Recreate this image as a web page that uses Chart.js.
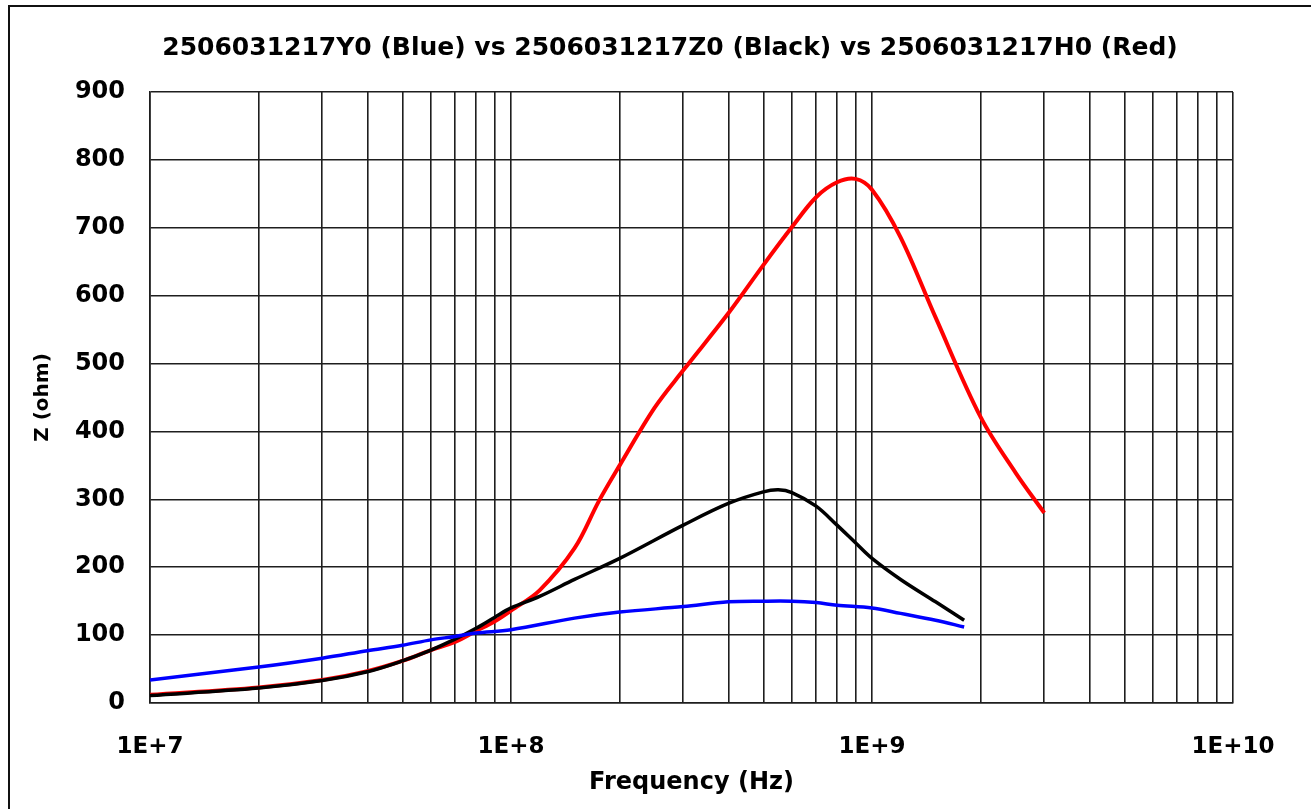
<!DOCTYPE html>
<html>
<head>
<meta charset="utf-8">
<script src="https://cdn.jsdelivr.net/npm/chart.js@4.4.1/dist/chart.umd.min.js"></script>
<style>
  html, body { margin: 0; padding: 0; background: #fff; overflow: hidden; }
  #wrap { position: relative; width: 1311px; height: 809px; }
  #frame { position: absolute; left: 8px; top: 5px; width: 1400px; height: 900px; border: 2px solid #111; box-sizing: border-box; pointer-events: none; }
  canvas { position: absolute; left: 0; top: 0; }
</style>
</head>
<body>
<div id="wrap">
  <canvas id="c" width="1311" height="809"></canvas>
  <div id="frame"></div>
</div>
<script>
const chartTitle = "2506031217Y0 (Blue) vs 2506031217Z0 (Black) vs 2506031217H0 (Red)";
const xTitle = "Frequency (Hz)";
const yTitle = "Z (ohm)";

const decades = [1e7, 1e8, 1e9, 1e10];
const minorSteps = [1, 2, 3, 4, 5, 6, 7, 8, 9];
const yTicks = [0, 100, 200, 300, 400, 500, 600, 700, 800, 900];

const freqBlue = [1e7, 2e7, 3e7, 4e7, 5e7, 6e7, 7e7, 8e7, 1e8, 1.5e8, 2e8, 3e8, 4e8, 5e8, 6e8, 7e8, 8e8, 1e9, 1.2e9, 1.5e9, 1.8e9];
const zBlue    = [34, 53, 66, 77, 85, 93, 98, 103, 108, 125, 134, 142, 149, 150, 150, 148, 144, 140, 132, 122, 112];

const freqBlack = [1e7, 2e7, 3e7, 4e7, 5e7, 6e7, 7e7, 8e7, 9e7, 1e8, 1.2e8, 1.5e8, 2e8, 3e8, 4e8, 5e8, 5.5e8, 6e8, 7e8, 8e8, 9e8, 1e9, 1.2e9, 1.5e9, 1.8e9];
const zBlack    = [11, 22, 33, 46, 62, 78, 94, 110, 126, 140, 157, 182, 213, 262, 294, 311, 314, 310, 290, 262, 236, 213, 182, 149, 122];

const freqRed = [1e7, 2e7, 3e7, 4e7, 5e7, 6e7, 7e7, 8e7, 9e7, 1e8, 1.2e8, 1.5e8, 1.75e8, 2e8, 2.5e8, 3e8, 4e8, 5e8, 6e8, 7e8, 8e8, 9e8, 1e9, 1.2e9, 1.5e9, 2e9, 2.5e9, 3e9];
const zRed    = [12, 23, 34, 47, 62, 78, 90, 106, 120, 136, 166, 228, 297, 350, 435, 490, 574, 645, 701, 745, 767, 772, 756, 686, 568, 421, 339, 280];

function pts(xs, ys) { return xs.map((x, i) => ({ x: x, y: ys[i] })); }

const FONT = "'DejaVu Sans', sans-serif";
const gridColor = '#1e1e1e';

new Chart(document.getElementById('c'), {
  type: 'line',
  data: {
    datasets: [
      { label: 'Blue', data: pts(freqBlue, zBlue), borderColor: '#0000ff', borderWidth: 3.5, pointRadius: 0, tension: 0.35, fill: false },
      { label: 'Black', data: pts(freqBlack, zBlack), borderColor: '#000000', borderWidth: 3.5, pointRadius: 0, tension: 0.35, fill: false },
      { label: 'Red', data: pts(freqRed, zRed), borderColor: '#ff0000', borderWidth: 4, pointRadius: 0, tension: 0.35, fill: false }
    ]
  },
  options: {
    responsive: false,
    animation: false,
    events: [],
    layout: { padding: { left: 29, right: 0, top: 0, bottom: 0 } },
    plugins: {
      legend: { display: false },
      tooltip: { enabled: false },
      title: {
        display: true,
        text: chartTitle,
        color: '#000',
        font: { family: FONT, size: 25, weight: 'bold', lineHeight: 1.2 },
        padding: { top: 33, bottom: 29 }
      }
    },
    scales: {
      x: {
        type: 'logarithmic',
        position: 'bottom',
        min: 1e7,
        max: 1e10,
        afterBuildTicks: (scale) => {
          const t = [];
          decades.forEach((d, i) => {
            if (i === decades.length - 1) { t.push({ value: d }); return; }
            minorSteps.forEach(m => t.push({ value: d * m }));
          });
          scale.ticks = t;
        },
        afterFit: (scale) => { scale.height = 106; },
        grid: { color: gridColor, lineWidth: 1.6, drawTicks: false },
        border: { color: gridColor, width: 1.6 },
        ticks: {
          autoSkip: false,
          maxRotation: 0,
          minRotation: 0,
          padding: 30,
          color: '#000',
          font: { family: FONT, size: 23, weight: 'bold', lineHeight: 1.2 },
          callback: (v) => {
            const e = Math.log10(v);
            return Math.abs(e - Math.round(e)) < 1e-9 ? '1E+' + Math.round(e) : '';
          }
        },
        title: {
          display: true,
          text: xTitle,
          color: '#000',
          font: { family: FONT, size: 24, weight: 'bold', lineHeight: 1.2 },
          padding: { top: 0, bottom: 12 }
        }
      },
      y: {
        type: 'linear',
        position: 'left',
        min: 0,
        max: 900,
        afterBuildTicks: (scale) => { scale.ticks = yTicks.map(v => ({ value: v })); },
        afterFit: (scale) => { scale.width = 121; },
        grid: { color: gridColor, lineWidth: 1.6, drawTicks: false },
        border: { color: gridColor, width: 1.6 },
        ticks: {
          padding: 25,
          color: '#000',
          font: { family: FONT, size: 24, weight: 'bold', lineHeight: 1.2 },
          callback: (v) => String(v)
        },
        title: {
          display: true,
          text: yTitle,
          color: '#000',
          font: { family: FONT, size: 20, weight: 'bold', lineHeight: 1.2 },
          padding: { top: 2, bottom: 0 }
        }
      },
      yr: {
        type: 'linear',
        position: 'right',
        min: 0,
        max: 900,
        display: true,
        grid: { display: false, drawTicks: false },
        border: { display: false },
        ticks: { display: false },
        afterFit: (scale) => { scale.width = 78; }
      }
    }
  }
});
</script>
</body>
</html>
